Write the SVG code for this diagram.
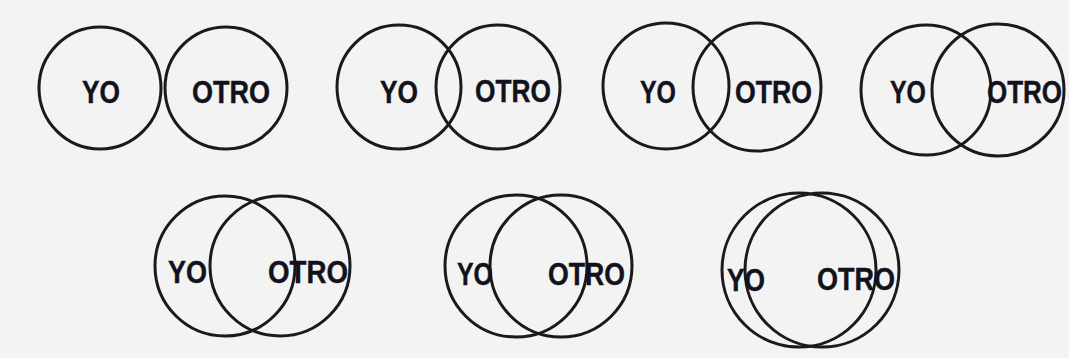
<svg xmlns="http://www.w3.org/2000/svg" width="1069" height="358" viewBox="0 0 1069 358">
  <style>
    .c { fill: none; stroke: #1a1a1a; stroke-width: 3; }
    .t { font-family: "Liberation Sans", Arial, sans-serif; font-weight: bold; font-size: 30.5px; fill: #12121c; stroke: #12121c; stroke-width: 0.4; }
  </style>
  <rect x="0" y="0" width="1069" height="358" fill="#f3f3f3"/>

  <g id="pair1">
    <circle class="c" cx="100" cy="88" r="61"/>
    <circle class="c" cx="226" cy="88" r="61"/>
    <text class="t" x="82" y="103" textLength="38" lengthAdjust="spacingAndGlyphs">YO</text>
    <text class="t" x="192" y="103" textLength="78" lengthAdjust="spacingAndGlyphs">OTRO</text>
  </g>

  <g id="pair2">
    <circle class="c" cx="399" cy="87" r="62"/>
    <circle class="c" cx="498" cy="87" r="62"/>
    <text class="t" x="380" y="103" textLength="38" lengthAdjust="spacingAndGlyphs">YO</text>
    <text class="t" x="475" y="102" textLength="76" lengthAdjust="spacingAndGlyphs">OTRO</text>
  </g>

  <g id="pair3">
    <circle class="c" cx="666" cy="86" r="63"/>
    <circle class="c" cx="757" cy="87" r="64"/>
    <text class="t" x="640" y="103" textLength="36" lengthAdjust="spacingAndGlyphs">YO</text>
    <text class="t" x="735" y="103" textLength="77" lengthAdjust="spacingAndGlyphs">OTRO</text>
  </g>

  <g id="pair4">
    <circle class="c" cx="926" cy="90" r="65"/>
    <circle class="c" cx="998" cy="90" r="66"/>
    <text class="t" x="890" y="103" textLength="36" lengthAdjust="spacingAndGlyphs">YO</text>
    <text class="t" x="987" y="103" textLength="75" lengthAdjust="spacingAndGlyphs">OTRO</text>
  </g>

  <g id="pair5">
    <circle class="c" cx="225" cy="266" r="70"/>
    <circle class="c" cx="280" cy="266" r="70"/>
    <text class="t" x="168" y="283" textLength="39" lengthAdjust="spacingAndGlyphs">YO</text>
    <text class="t" x="268" y="283" textLength="80" lengthAdjust="spacingAndGlyphs">OTRO</text>
  </g>

  <g id="pair6">
    <circle class="c" cx="516" cy="266" r="71"/>
    <circle class="c" cx="561" cy="266" r="71"/>
    <text class="t" x="457" y="285" textLength="36" lengthAdjust="spacingAndGlyphs">YO</text>
    <text class="t" x="548" y="285" textLength="77" lengthAdjust="spacingAndGlyphs">OTRO</text>
  </g>

  <g id="pair7">
    <circle class="c" cx="799" cy="270" r="77"/>
    <circle class="c" cx="822" cy="270" r="77"/>
    <text class="t" x="727" y="291" textLength="38" lengthAdjust="spacingAndGlyphs">YO</text>
    <text class="t" x="817" y="290" textLength="78" lengthAdjust="spacingAndGlyphs">OTRO</text>
  </g>
</svg>
